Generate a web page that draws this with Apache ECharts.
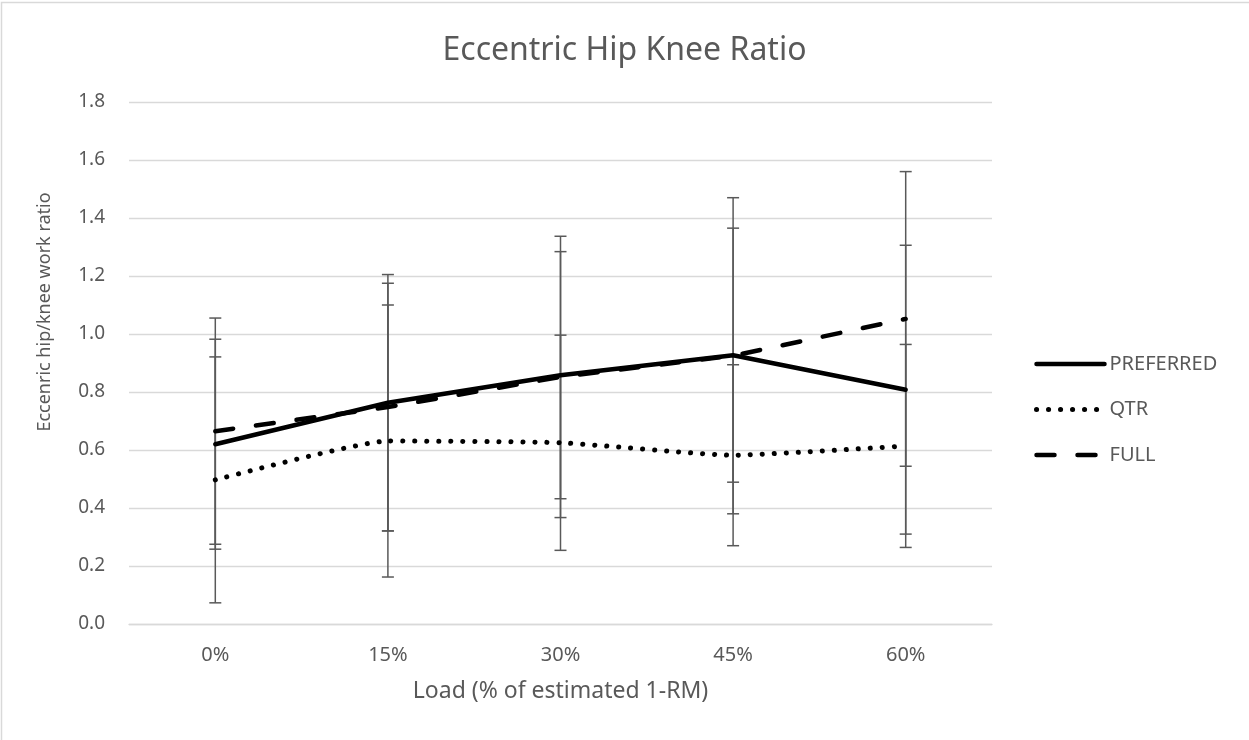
<!DOCTYPE html>
<html>
<head>
<meta charset="utf-8">
<script src="https://cdn.jsdelivr.net/npm/echarts@6/dist/echarts.min.js"></script>
<style>
html,body{margin:0;padding:0;background:#fff;}
#chart{width:1249px;height:740px;}
</style>
</head>
<body>
<div id="chart"></div>
<script>
const categories = ['0%', '15%', '30%', '45%', '60%'];
const yTicks = [0, 0.2, 0.4, 0.6, 0.8, 1.0, 1.2, 1.4, 1.6, 1.8];
const preferred = [0.620, 0.763, 0.858, 0.927, 0.808];
const qtr = [0.497, 0.631, 0.625, 0.582, 0.614];
const full = [0.665, 0.748, 0.852, 0.925, 1.052];
const preferredErr = [0.362, 0.442, 0.426, 0.438, 0.498];
const qtrErr = [0.424, 0.469, 0.371, 0.312, 0.350];
const fullErr = [0.390, 0.427, 0.485, 0.545, 0.508];

const FONT = '"Noto Sans", "Open Sans", sans-serif';
const TXT = '#595959';

const STYLE_P = { color: '#000', width: 4.5, type: 'solid', cap: 'round', join: 'round' };
const STYLE_Q = { color: '#000', width: 5, type: [0.1, 11.9], cap: 'round' };
const STYLE_F = { color: '#000', width: 4.5, type: [18, 23], cap: 'round' };

function errData(vals, errs) {
  return vals.map((v, i) => [i, v - errs[i], v + errs[i]]);
}
function errRender(params, api) {
  const x = api.value(0);
  const lo = api.coord([x, api.value(1)]);
  const hi = api.coord([x, api.value(2)]);
  const w = 6;
  const style = { stroke: '#595959', lineWidth: 1.5, fill: null };
  return {
    type: 'group',
    children: [
      { type: 'line', shape: { x1: lo[0], y1: lo[1], x2: hi[0], y2: hi[1] }, style },
      { type: 'line', shape: { x1: hi[0] - w, y1: hi[1], x2: hi[0] + w, y2: hi[1] }, style },
      { type: 'line', shape: { x1: lo[0] - w, y1: lo[1], x2: lo[0] + w, y2: lo[1] }, style }
    ]
  };
}

const chart = echarts.init(document.getElementById('chart'), null, { renderer: 'canvas' });
chart.setOption({
  animation: false,
  backgroundColor: '#fff',
  title: {
    text: 'Eccentric Hip Knee Ratio',
    left: 'center',
    top: 30,
    textStyle: { fontFamily: FONT, fontSize: 32, fontWeight: 'normal', color: TXT }
  },
  graphic: [
    { type: 'rect', shape: { x: 1.5, y: 2.5, width: 1300, height: 800 },
      style: { fill: null, stroke: '#d9d9d9', lineWidth: 1.5 }, silent: true, z: -1 },
    { type: 'text', x: 45, y: 312, rotation: Math.PI / 2,
      style: { text: 'Eccenric hip/knee work ratio', fontFamily: FONT, fontSize: 18,
               fill: TXT, align: 'center', verticalAlign: 'middle' } }
  ],
  grid: { left: 129, right: 257, top: 102, bottom: 116, containLabel: false },
  legend: {
    orient: 'vertical',
    left: 1029,
    top: 349,
    itemWidth: 68,
    itemHeight: 14,
    itemGap: 25.5,
    data: [
      { name: 'PREFERRED', lineStyle: STYLE_P },
      { name: 'QTR', lineStyle: STYLE_Q },
      { name: 'FULL', lineStyle: STYLE_F }
    ],
    itemStyle: { opacity: 0 },
    textStyle: { fontFamily: FONT, fontSize: 20, color: TXT, padding: [0, 0, 0, 0] }
  },
  xAxis: {
    type: 'category',
    data: categories,
    boundaryGap: true,
    axisLine: { lineStyle: { color: '#d9d9d9', width: 1.3 } },
    axisTick: { show: false },
    axisLabel: { fontFamily: FONT, fontSize: 20, color: TXT, margin: 21 },
    name: 'Load (% of estimated 1-RM)',
    nameLocation: 'middle',
    nameGap: 56,
    nameTextStyle: { fontFamily: FONT, fontSize: 23, color: TXT }
  },
  yAxis: {
    type: 'value',
    min: yTicks[0],
    max: yTicks[yTicks.length - 1],
    interval: 0.2,
    axisLine: { show: false },
    axisTick: { show: false },
    splitLine: { lineStyle: { color: '#d9d9d9', width: 1.3 } },
    axisLabel: { fontFamily: FONT, fontSize: 19, color: TXT, margin: 24,
                 formatter: v => v.toFixed(1) }
  },
  series: [
    { type: 'custom', name: 'errP', renderItem: errRender, data: errData(preferred, preferredErr), z: 1, encode: { x: 0, y: [1, 2] } },
    { type: 'custom', name: 'errQ', renderItem: errRender, data: errData(qtr, qtrErr), z: 1, encode: { x: 0, y: [1, 2] } },
    { type: 'custom', name: 'errF', renderItem: errRender, data: errData(full, fullErr), z: 1, encode: { x: 0, y: [1, 2] } },
    { type: 'line', name: 'PREFERRED', data: preferred, symbol: 'none', z: 3,
      lineStyle: STYLE_P, itemStyle: { color: '#000' } },
    { type: 'line', name: 'QTR', data: qtr, symbol: 'none', smooth: 0.15, z: 3,
      lineStyle: STYLE_Q, itemStyle: { color: '#000' } },
    { type: 'line', name: 'FULL', data: full, symbol: 'none', z: 3,
      lineStyle: STYLE_F, itemStyle: { color: '#000' } }
  ]
});
</script>
</body>
</html>
